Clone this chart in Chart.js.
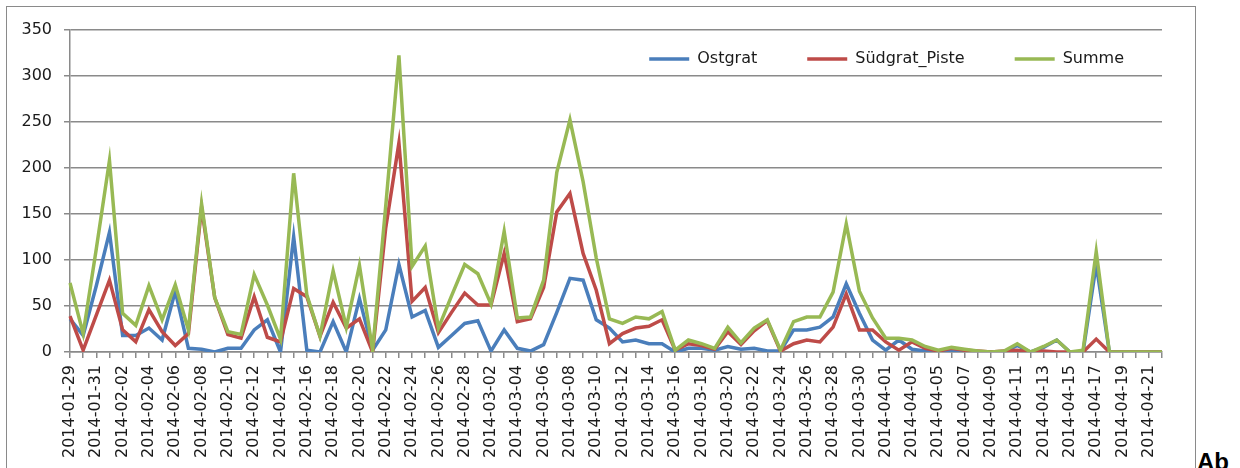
<!DOCTYPE html>
<html>
<head>
<meta charset="utf-8">
<script src="https://cdn.jsdelivr.net/npm/chart.js@4"></script>
<style>
body { margin: 0; background: #fff; width: 1240px; height: 468px; overflow: hidden; position: relative; }
#frame { position: absolute; left: 6px; top: 6px; width: 1188px; height: 500px; border: 1.5px solid #8a8a8a; }
#chart { position: absolute; left: 8px; top: 8px; }
#ab { position: absolute; left: 1197px; top: 448px; font: bold 24px "Liberation Sans", Arial, sans-serif; color: #000; }
</style>
</head>
<body>
<div id="frame"></div>
<canvas id="chart" width="1185" height="460"></canvas>
<div id="ab">Ab</div>
<script>
const days = [
    '2014-01-29', '2014-01-30', '2014-01-31', '2014-02-01', '2014-02-02', '2014-02-03', '2014-02-04', '2014-02-05', '2014-02-06', '2014-02-07',
    '2014-02-08', '2014-02-09', '2014-02-10', '2014-02-11', '2014-02-12', '2014-02-13', '2014-02-14', '2014-02-15', '2014-02-16', '2014-02-17',
    '2014-02-18', '2014-02-19', '2014-02-20', '2014-02-21', '2014-02-22', '2014-02-23', '2014-02-24', '2014-02-25', '2014-02-26', '2014-02-27',
    '2014-02-28', '2014-03-01', '2014-03-02', '2014-03-03', '2014-03-04', '2014-03-05', '2014-03-06', '2014-03-07', '2014-03-08', '2014-03-09',
    '2014-03-10', '2014-03-11', '2014-03-12', '2014-03-13', '2014-03-14', '2014-03-15', '2014-03-16', '2014-03-17', '2014-03-18', '2014-03-19',
    '2014-03-20', '2014-03-21', '2014-03-22', '2014-03-23', '2014-03-24', '2014-03-25', '2014-03-26', '2014-03-27', '2014-03-28', '2014-03-29',
    '2014-03-30', '2014-03-31', '2014-04-01', '2014-04-02', '2014-04-03', '2014-04-04', '2014-04-05', '2014-04-06', '2014-04-07', '2014-04-08',
    '2014-04-09', '2014-04-10', '2014-04-11', '2014-04-12', '2014-04-13', '2014-04-14', '2014-04-15', '2014-04-16', '2014-04-17', '2014-04-18',
    '2014-04-19', '2014-04-20', '2014-04-21', '2014-04-22'
]

const ostgrat = [
    36, 18, 72, 130, 18, 18, 26, 13, 66, 4,
    3, 0, 4, 4, 24, 35, 0, 125, 2, 0,
    33, 0, 58, 2, 24, 95, 38, 45, 5, 18,
    31, 34, 1, 24, 4, 1, 8, 43, 80, 78,
    35, 26, 11, 13, 9, 9, 0, 4, 4, 2,
    6, 3, 4, 1, 1, 24, 24, 27, 38, 74,
    42, 13, 2, 13, 3, 1, 0, 1, 1, 0,
    0, 0, 7, 0, 5, 13, 0, 0, 95, 0,
    0, 0, 0, 0
]

const suedgrat = [
    39, 2, 40, 78, 24, 11, 46, 22, 7, 20,
    157, 59, 19, 15, 60, 16, 11, 69, 60, 17,
    54, 26, 36, 0, 135, 227, 55, 70, 21, 43,
    64, 51, 51, 107, 33, 36, 70, 152, 172, 107,
    67, 9, 20, 26, 28, 35, 2, 9, 7, 3,
    22, 8, 23, 34, 1, 9, 13, 11, 27, 63,
    24, 24, 11, 2, 11, 4, 1, 4, 2, 1,
    0, 1, 2, 0, 1, 0, 0, 0, 14, 0,
    0, 0, 0, 0
]

const summe = [
    75, 20, 112, 208, 42, 29, 72, 35, 73, 24,
    161, 59, 22, 19, 84, 51, 14, 194, 62, 17,
    88, 27, 94, 2, 159, 322, 93, 115, 26, 61,
    95, 85, 52, 131, 37, 38, 78, 195, 252, 185,
    102, 36, 31, 38, 36, 44, 2, 13, 9, 4,
    27, 10, 26, 35, 2, 33, 38, 38, 65, 139,
    66, 37, 15, 15, 13, 6, 2, 5, 3, 1,
    0, 1, 9, 0, 6, 13, 0, 2, 109, 0,
    0, 0, 0, 0
]

const gridGrey = '#8a8a8a'
const font = { family: 'DejaVu Sans', size: 16 }

// legend takes (almost) no room, then gets moved into the plot under the top gridline
const legendSpot = {
    id: 'legendSpot',
    afterLayout(chart) {
        const lg = chart.legend
        lg.top = -7
        lg.bottom = 120
        lg.left = 0
        lg.right = chart.chartArea.right + 12
    }
}

function line(label, data, color, order) {
    return {
        label: label,
        data: data,
        borderColor: color,
        backgroundColor: color,
        borderWidth: 3.5,
        pointRadius: 0,
        tension: 0,
        order: order
    }
}

const chart = new Chart(document.getElementById('chart'), {
    type: 'line',
    data: {
        labels: days,
        datasets: [
            line('Ostgrat', ostgrat, '#4a7ebb', 2),
            line('Südgrat_Piste', suedgrat, '#be4b48', 1),
            line('Summe', summe, '#98b954', 0)
        ]
    },
    options: {
        responsive: false,
        animation: false,
        layout: { padding: { top: 19, right: 31, left: 0, bottom: 0 } },
        plugins: {
            tooltip: { enabled: false },
            legend: {
                position: 'top',
                align: 'end',
                maxHeight: 1,
                labels: {
                    font: font,
                    color: '#1a1a1a',
                    usePointStyle: true,
                    pointStyle: 'line',
                    pointStyleWidth: 40,
                    padding: 50,
                    sort: (a, b) => a.datasetIndex - b.datasetIndex
                }
            }
        },
        scales: {
            x: {
                afterFit: s => { s.height = 116 },
                grid: { drawOnChartArea: false, drawTicks: true, tickLength: 6, color: gridGrey, lineWidth: 1.5 },
                border: { color: gridGrey, width: 1.5 },
                ticks: {
                    autoSkip: false,
                    maxRotation: 90,
                    minRotation: 90,
                    padding: 7,
                    font: font,
                    color: '#1a1a1a',
                    callback: (v, i) => i % 2 === 0 ? days[i] : ''
                }
            },
            y: {
                min: 0,
                max: 350,
                afterFit: s => { s.width = 62 },
                grid: { color: gridGrey, lineWidth: 1.5, tickLength: 6 },
                border: { color: gridGrey, width: 1.5 },
                ticks: { stepSize: 50, padding: 12, font: font, color: '#1a1a1a' }
            }
        }
    },
    plugins: [legendSpot]
})
</script>
</body>
</html>
